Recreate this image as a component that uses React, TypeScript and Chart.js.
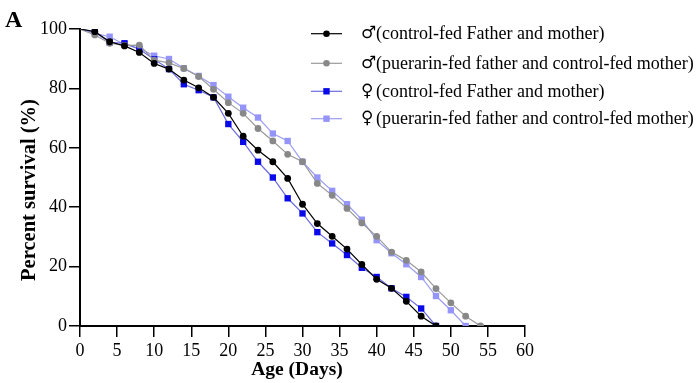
import React, { useEffect, useRef } from "react";
import { Chart, registerables } from "chart.js";

Chart.register(...registerables);

const days = [0, 2, 4, 6, 8, 10, 12, 14, 16, 18, 20, 22, 24, 26, 28, 30, 32, 34, 36, 38, 40, 42, 44, 46, 48, 50, 52, 54];

const maleControl = [100, 99.1, 95.7, 94.3, 92.1, 88.4, 86.5, 82.8, 80.2, 77, 71.6, 63.9, 59.2, 55.3, 49.7, 41.0, 34.5, 30.2, 25.9, 20.7, 15.7, 12.7, 8.3, 3.3, 0];
const malePuerarin = [100, 98, 95.2, 94.5, 94.6, 89.5, 88.6, 86.7, 84, 79.7, 75.2, 71.6, 66.5, 62.3, 57.8, 55.3, 48, 44, 39.6, 34.7, 30.2, 24.9, 22.1, 18.2, 12.6, 7.8, 3.3, 0];
const femaleControl = [100, 99, 95.5, 95.2, 93.2, 89.8, 86.5, 81.4, 79.4, 77, 68, 62, 55.3, 50, 43, 37.9, 31.6, 27.8, 23.9, 19.6, 16.5, 12.7, 9.8, 5.9, 0];
const femalePuerarin = [100, 98.5, 97.4, 94.8, 93.5, 91, 89.9, 86.8, 84.2, 81.1, 77.2, 73.5, 70.2, 64.8, 62.3, 55.3, 50, 45.5, 41, 35.8, 28.9, 24.5, 20.8, 16.5, 10.1, 5.3, 0];

const seriesSymbols = ["\u2642", "\u2642", "\u2640", "\u2640"];
const seriesLabels = [
  "(control-fed Father and mother)",
  "(puerarin-fed father and control-fed mother)",
  "(control-fed Father and mother)",
  "(puerarin-fed father and control-fed mother)",
];

const xTicks = [0, 5, 10, 15, 20, 25, 30, 35, 40, 45, 50, 55, 60];
const yTicks = [0, 20, 40, 60, 80, 100];

const xTitle = "Age (Days)";
const yTitle = "Percent survival (%)";
const panelLetter = "A";

const SERIF = "'Liberation Serif', 'Times New Roman', serif";

const toPoints = (vals: number[]) => vals.map((v, i) => ({ x: days[i], y: v }));

const legendPlugin = {
  id: "customLegend",
  afterDraw(chart: any) {
    const ctx = chart.ctx;
    ctx.save();
    // Panel letter
    ctx.fillStyle = "#000";
    ctx.font = `bold 24px ${SERIF}`;
    ctx.textBaseline = "alphabetic";
    ctx.textAlign = "left";
    ctx.fillText(panelLetter, 5, 27);

    // Axis titles
    ctx.font = `bold 19.5px ${SERIF}`;
    ctx.textAlign = "center";
    ctx.textBaseline = "middle";
    ctx.fillText(xTitle, 297, 370);
    ctx.save();
    ctx.translate(30, 190);
    ctx.rotate(-Math.PI / 2);
    ctx.font = `bold 20.5px ${SERIF}`;
    ctx.fillText(yTitle, 0, 0);
    ctx.restore();

    const rows = [33.7, 63.3, 91.3, 118.7];
    chart.data.datasets.forEach((ds: any, i: number) => {
      const y = rows[i];
      ctx.strokeStyle = ds.borderColor;
      ctx.lineWidth = ds.borderWidth;
      ctx.beginPath();
      ctx.moveTo(311, y);
      ctx.lineTo(342, y);
      ctx.stroke();
      ctx.fillStyle = ds.pointBackgroundColor;
      if (ds.pointStyle === "rect") {
        const s = 3.2;
        ctx.fillRect(326.5 - s, y - s, 2 * s, 2 * s);
      } else {
        ctx.beginPath();
        ctx.arc(326.5, y, 3.3, 0, Math.PI * 2);
        ctx.fill();
      }
      ctx.fillStyle = "#000";
      ctx.textAlign = "left";
      ctx.textBaseline = "middle";
      ctx.font = `17px 'DejaVu Sans', sans-serif`;
      ctx.fillText(seriesSymbols[i], 361, y);
      ctx.font = `18px ${SERIF}`;
      ctx.fillText(ds.label, 376, y + 1);
    });
    ctx.restore();
  },
};

function makeRadius(n: number, r: number) {
  return Array.from({ length: n }, (_, i) => (i === 0 ? 0 : r));
}

export default function App() {
  const ref = useRef<HTMLCanvasElement>(null);
  useEffect(() => {
    document.body.style.margin = "0";
    const canvas = ref.current!;
    const chart = new Chart(canvas, {
      type: "line",
      data: {
        datasets: [
          {
            label: seriesLabels[0],
            data: toPoints(maleControl),
            borderColor: "#000000",
            backgroundColor: "#000000",
            pointBackgroundColor: "#000000",
            pointBorderColor: "#000000",
            pointStyle: "circle",
            pointRadius: makeRadius(maleControl.length, 3.4),
            pointBorderWidth: 0,
            borderWidth: 1.2,
          },
          {
            label: seriesLabels[1],
            data: toPoints(malePuerarin),
            borderColor: "#9a9a9a",
            backgroundColor: "#888888",
            pointBackgroundColor: "#888888",
            pointBorderColor: "#888888",
            pointStyle: "circle",
            pointRadius: makeRadius(malePuerarin.length, 3.4),
            pointBorderWidth: 0,
            borderWidth: 1.2,
          },
          {
            label: seriesLabels[2],
            data: toPoints(femaleControl),
            borderColor: "#6b6be0",
            backgroundColor: "#0a0ae8",
            pointBackgroundColor: "#0a0ae8",
            pointBorderColor: "#0a0ae8",
            pointStyle: "rect",
            pointRadius: makeRadius(femaleControl.length, 4.5),
            pointBorderWidth: 0,
            borderWidth: 1.2,
          },
          {
            label: seriesLabels[3],
            data: toPoints(femalePuerarin),
            borderColor: "#9c9cf2",
            backgroundColor: "#9494fb",
            pointBackgroundColor: "#9494fb",
            pointBorderColor: "#9494fb",
            pointStyle: "rect",
            pointRadius: makeRadius(femalePuerarin.length, 4.5),
            pointBorderWidth: 0,
            borderWidth: 1.2,
          },
        ],
      },
      options: {
        animation: false,
        responsive: false,
        maintainAspectRatio: false,
        layout: { padding: { left: 0, right: 175, top: 29, bottom: 0 } },
        plugins: { legend: { display: false }, tooltip: { enabled: false } },
        elements: { line: { tension: 0 } },
        scales: {
          x: {
            type: "linear",
            min: 0,
            max: 60,
            afterFit: (s: any) => {
              s.height = 57;
            },
            afterBuildTicks: (s: any) => {
              s.ticks = xTicks.map((v) => ({ value: v }));
            },
            border: { display: true, color: "#000", width: 2 },
            grid: { drawOnChartArea: false, drawTicks: true, tickLength: 11, color: "#000", lineWidth: 1.5 },
            ticks: { color: "#000", font: { family: SERIF, size: 18 }, padding: 3, maxRotation: 0, autoSkip: false },
            title: { display: false },
          },
          y: {
            type: "linear",
            min: 0,
            max: 100,
            afterFit: (s: any) => {
              s.width = 80;
            },
            afterBuildTicks: (s: any) => {
              s.ticks = yTicks.map((v) => ({ value: v }));
            },
            border: { display: true, color: "#000", width: 2 },
            grid: { drawOnChartArea: false, drawTicks: true, tickLength: 11, color: "#000", lineWidth: 1.5 },
            ticks: { color: "#000", font: { family: SERIF, size: 18 }, padding: 2, autoSkip: false },
            title: { display: false },
          },
        },
      },
      plugins: [legendPlugin],
    });
    return () => chart.destroy();
  }, []);
  return (
    <div style={{ width: 700, height: 383 }}>
      <canvas ref={ref} width={700} height={383} style={{ width: 700, height: 383, display: "block" }} />
    </div>
  );
}
